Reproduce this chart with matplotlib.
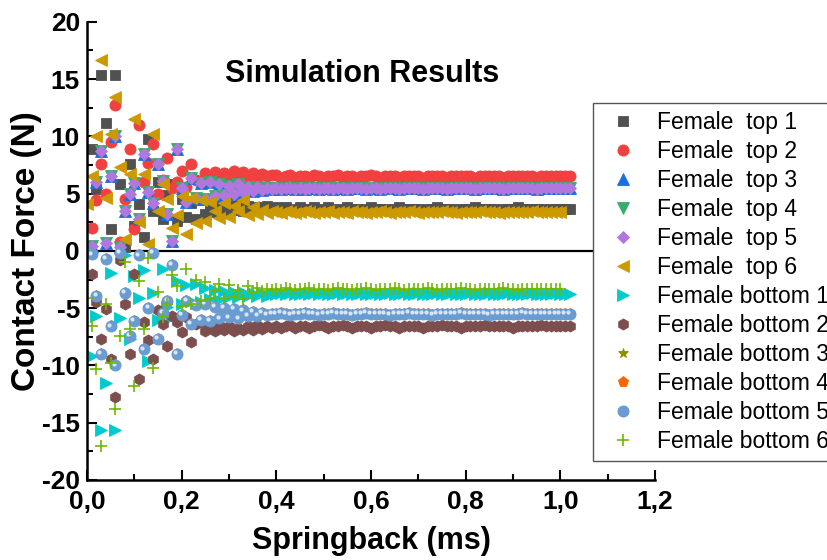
#!/usr/bin/env python3
"""Contact force vs springback time for the twelve female terminal contacts."""

import matplotlib

matplotlib.use("Agg")
import matplotlib.pyplot as plt
from matplotlib.ticker import FuncFormatter, MultipleLocator
from matplotlib.transforms import offset_copy

plt.rcParams["font.family"] = ["Liberation Sans", "DejaVu Sans"]
plt.rcParams["axes.unicode_minus"] = False

# sample grid of the simulation output (ms)
TIME = [round(0.01 * k, 2) for k in range(103)]

TOP_1 = [
    0.0, 8.9, 5.4, 15.4, 11.2, 1.9, 15.4, 5.8, 0.3, 7.6,
    2.2, 4.1, 1.2, 9.8, 3.5, 6.0, 2.8, 4.9, 5.8, 2.6,
    4.5, 3.0, 4.2, 2.8, 4.4, 3.2, 4.0, 3.4, 4.3, 3.5,
    3.9, 3.6, 4.0, 3.5, 3.9, 3.6, 3.8, 3.7, 3.9, 3.7,
    3.8, 3.6, 3.8, 3.7, 3.6, 3.8, 3.7, 3.7, 3.8, 3.6,
    3.7, 3.8, 3.7, 3.6, 3.7, 3.8, 3.7, 3.7, 3.6, 3.7,
    3.8, 3.7, 3.7, 3.7, 3.6, 3.7, 3.8, 3.7, 3.7, 3.7,
    3.7, 3.6, 3.7, 3.7, 3.8, 3.7, 3.7, 3.7, 3.6, 3.7,
    3.7, 3.7, 3.8, 3.7, 3.7, 3.7, 3.7, 3.6, 3.7, 3.7,
    3.7, 3.8, 3.7, 3.7, 3.7, 3.7, 3.7, 3.6, 3.7, 3.7,
    3.7, 3.7, 3.7,
]
TOP_2 = [
    0.0, 2.0, 4.4, 7.6, 5.0, 9.5, 12.7, 0.8, 4.5, 8.9,
    1.9, 11.0, 6.0, 7.7, 9.3, 5.0, 6.2, 8.1, 5.5, 6.0,
    7.0, 5.6, 7.6, 6.2, 6.0, 6.8, 6.2, 6.9, 6.3, 6.8,
    6.5, 7.0, 6.6, 6.9, 6.5, 6.8, 6.4, 6.7, 6.5, 6.6,
    6.6, 6.4, 6.5, 6.6, 6.4, 6.5, 6.5, 6.4, 6.6, 6.5,
    6.4, 6.5, 6.5, 6.6, 6.4, 6.5, 6.5, 6.4, 6.5, 6.5,
    6.6, 6.5, 6.4, 6.5, 6.5, 6.5, 6.4, 6.5, 6.5, 6.5,
    6.5, 6.4, 6.5, 6.5, 6.5, 6.5, 6.4, 6.5, 6.5, 6.5,
    6.5, 6.5, 6.4, 6.5, 6.5, 6.5, 6.5, 6.5, 6.4, 6.5,
    6.5, 6.5, 6.5, 6.5, 6.5, 6.4, 6.5, 6.5, 6.5, 6.5,
    6.5, 6.5, 6.5,
]
TOP_5 = [
    0.0, 0.4, 6.0, 8.7, 0.7, 6.5, 10.0, 0.3, 3.5, 5.0,
    5.9, 2.8, 8.5, 5.1, 4.2, 7.6, 6.1, 3.2, 0.9, 8.9,
    5.5, 4.3, 6.4, 4.6, 5.9, 4.5, 6.0, 4.8, 5.8, 4.9,
    5.7, 5.0, 5.8, 5.1, 5.6, 5.2, 5.6, 5.3, 5.5, 5.4,
    5.5, 5.4, 5.5, 5.5, 5.4, 5.5, 5.4, 5.5, 5.5, 5.4,
    5.5, 5.5, 5.4, 5.5, 5.5, 5.4, 5.5, 5.5, 5.5, 5.4,
    5.5, 5.5, 5.4, 5.5, 5.5, 5.5, 5.4, 5.5, 5.5, 5.5,
    5.5, 5.4, 5.5, 5.5, 5.5, 5.5, 5.4, 5.5, 5.5, 5.5,
    5.5, 5.5, 5.4, 5.5, 5.5, 5.5, 5.5, 5.5, 5.4, 5.5,
    5.5, 5.5, 5.5, 5.5, 5.5, 5.4, 5.5, 5.5, 5.5, 5.5,
    5.5, 5.5, 5.5,
]
TOP_6 = [
    4.1, 6.5, 10.0, 16.7, 4.6, 10.2, 13.4, 7.3, 1.0, 6.7,
    11.5, 2.5, 6.7, 0.6, 10.2, 3.5, 5.8, 4.5, 2.0, 3.1,
    4.8, 1.5, 4.6, 2.4, 4.4, 2.6, 4.3, 3.5, 2.9, 4.2,
    3.0, 3.9, 3.5, 4.4, 3.1, 3.8, 3.2, 3.6, 3.3, 3.5,
    3.4, 3.3, 3.5, 3.4, 3.3, 3.4, 3.5, 3.4, 3.3, 3.4,
    3.4, 3.5, 3.3, 3.4, 3.4, 3.3, 3.5, 3.4, 3.4, 3.3,
    3.4, 3.4, 3.5, 3.4, 3.3, 3.4, 3.4, 3.4, 3.5, 3.4,
    3.3, 3.4, 3.4, 3.4, 3.4, 3.5, 3.4, 3.4, 3.3, 3.4,
    3.4, 3.4, 3.4, 3.5, 3.4, 3.4, 3.4, 3.3, 3.4, 3.4,
    3.4, 3.4, 3.4, 3.4, 3.5, 3.4, 3.4, 3.4, 3.4, 3.4,
    3.4,
]
BOTTOM_1 = [
    0.0, -9.2, -5.7, -15.6, -11.5, -1.9, -15.6, -5.9, -0.4, -7.7,
    -2.2, -4.1, -1.7, -9.6, -3.7, -6.0, -1.6, -4.9, -5.8, -2.6,
    -4.6, -3.0, -4.4, -2.9, -4.5, -3.2, -4.2, -3.4, -4.3, -3.5,
    -4.0, -3.6, -4.0, -3.6, -3.9, -3.7, -3.9, -3.7, -3.9, -3.8,
    -3.8, -3.7, -3.8, -3.7, -3.8, -3.8, -3.7, -3.8, -3.7, -3.8,
    -3.7, -3.8, -3.8, -3.7, -3.8, -3.7, -3.8, -3.8, -3.7, -3.8,
    -3.8, -3.7, -3.8, -3.8, -3.7, -3.8, -3.8, -3.7, -3.8, -3.8,
    -3.7, -3.8, -3.8, -3.8, -3.7, -3.8, -3.8, -3.7, -3.8, -3.8,
    -3.8, -3.7, -3.8, -3.8, -3.8, -3.7, -3.8, -3.8, -3.8, -3.7,
    -3.8, -3.8, -3.8, -3.8, -3.7, -3.8, -3.8, -3.8, -3.8, -3.7,
    -3.8, -3.8, -3.8,
]
BOTTOM_2 = [
    0.0, -2.0, -4.5, -7.7, -5.1, -9.4, -12.8, -0.8, -4.6, -9.0,
    -2.0, -11.2, -6.2, -7.8, -9.4, -5.2, -6.4, -8.3, -5.7, -6.2,
    -7.1, -5.8, -8.0, -6.4, -6.2, -7.0, -6.4, -7.0, -6.5, -6.9,
    -6.6, -7.0, -6.7, -6.9, -6.6, -6.9, -6.5, -6.8, -6.6, -6.7,
    -6.6, -6.7, -6.6, -6.5, -6.7, -6.6, -6.6, -6.7, -6.6, -6.5,
    -6.6, -6.7, -6.6, -6.6, -6.5, -6.6, -6.7, -6.6, -6.6, -6.6,
    -6.7, -6.6, -6.6, -6.5, -6.6, -6.6, -6.7, -6.6, -6.6, -6.6,
    -6.6, -6.7, -6.6, -6.6, -6.6, -6.5, -6.6, -6.6, -6.6, -6.7,
    -6.6, -6.6, -6.6, -6.6, -6.5, -6.6, -6.6, -6.6, -6.6, -6.6,
    -6.7, -6.6, -6.6, -6.6, -6.6, -6.6, -6.5, -6.6, -6.6, -6.6,
    -6.6, -6.6, -6.6,
]
BOTTOM_5 = [
    0.0, -0.3, -3.9, -9.0, -0.7, -6.6, -10.0, -0.2, -3.7, -7.4,
    -6.1, -0.4, -8.6, -5.0, -0.2, -7.7, -5.4, -4.4, -1.2, -9.0,
    -5.6, -4.4, -6.4, -4.7, -6.0, -4.6, -6.1, -4.9, -5.9, -5.0,
    -5.8, -5.1, -5.9, -5.2, -5.7, -5.3, -5.7, -5.4, -5.6, -5.5,
    -5.5, -5.4, -5.5, -5.6, -5.5, -5.5, -5.4, -5.5, -5.5, -5.6,
    -5.5, -5.5, -5.4, -5.5, -5.5, -5.5, -5.6, -5.5, -5.5, -5.4,
    -5.5, -5.5, -5.5, -5.5, -5.6, -5.5, -5.5, -5.5, -5.4, -5.5,
    -5.5, -5.5, -5.5, -5.6, -5.5, -5.5, -5.5, -5.5, -5.5, -5.4,
    -5.5, -5.5, -5.5, -5.5, -5.5, -5.6, -5.5, -5.5, -5.5, -5.5,
    -5.5, -5.5, -5.4, -5.5, -5.5, -5.5, -5.5, -5.5, -5.5, -5.5,
    -5.5, -5.5, -5.5,
]
BOTTOM_6 = [
    -4.1, -6.6, -10.3, -17.0, -4.6, -9.8, -13.8, -7.4, -1.0, -6.8,
    -11.8, -2.6, -6.8, -0.6, -10.2, -3.6, -5.8, -4.6, -2.1, -3.1,
    -4.8, -1.6, -4.6, -2.5, -4.4, -2.7, -4.2, -3.5, -2.9, -4.1,
    -3.0, -3.9, -3.4, -4.2, -3.1, -3.7, -3.2, -3.5, -3.3, -3.4,
    -3.3, -3.4, -3.2, -3.3, -3.4, -3.3, -3.3, -3.2, -3.4, -3.3,
    -3.3, -3.4, -3.3, -3.2, -3.3, -3.3, -3.4, -3.3, -3.3, -3.2,
    -3.3, -3.4, -3.3, -3.3, -3.3, -3.2, -3.3, -3.4, -3.3, -3.3,
    -3.3, -3.3, -3.2, -3.3, -3.4, -3.3, -3.3, -3.3, -3.3, -3.2,
    -3.3, -3.3, -3.4, -3.3, -3.3, -3.3, -3.3, -3.3, -3.2, -3.3,
    -3.3, -3.4, -3.3, -3.3, -3.3, -3.3, -3.3, -3.3, -3.3, -3.3,
    -3.3,
]
# top 3 / top 4 lie under top 5; bottom 3 / bottom 4 lie under bottom 5
TOP_3 = TOP_5
TOP_4 = TOP_5
BOTTOM_3 = BOTTOM_5
BOTTOM_4 = BOTTOM_5

SERIES = [
    ("Female  top 1", TOP_1, "s", "#515151", 7.0),
    ("Female  top 2", TOP_2, "o", "#F14040", 8.0),
    ("Female  top 3", TOP_3, "^", "#1A6FDF", 8.0),
    ("Female  top 4", TOP_4, "v", "#37AD6B", 8.0),
    ("Female  top 5", TOP_5, "D", "#B177DE", 6.5),
    ("Female  top 6", TOP_6, "<", "#CC9900", 8.5),
    ("Female bottom 1", BOTTOM_1, ">", "#00CBCC", 8.5),
    ("Female bottom 2", BOTTOM_2, "h", "#7D4E4E", 8.0),
    ("Female bottom 3", BOTTOM_3, "*", "#8E8E00", 7.5),
    ("Female bottom 4", BOTTOM_4, "p", "#FB6501", 8.0),
    ("Female bottom 5", BOTTOM_5, "o", "#6A9BD1", 8.0),
    ("Female bottom 6", BOTTOM_6, "+", "#6FB802", 8.5),
]


def comma(value, _pos):
    return f"{value:.1f}".replace(".", ",")


fig = plt.figure(figsize=(8.28, 5.6), dpi=100)
ax = fig.add_axes([0.105, 0.143, 0.686, 0.818])

# little glint so the bottom 5 circles read as spheres
glint = offset_copy(ax.transData, fig=fig, x=-1.8, y=1.8, units="dots")

ax.axhline(0, color="black", linewidth=1.6, zorder=1)
for label, values, marker, color, size in SERIES:
    ax.plot(
        TIME[: len(values)],
        values,
        linestyle="none",
        marker=marker,
        markersize=size,
        color=color,
        markeredgecolor=color,
        markeredgewidth=1.2 if marker == "+" else 0.6,
        label=label,
        zorder=2,
    )
    if label == "Female bottom 5":
        ax.plot(
            TIME[: len(values)],
            values,
            linestyle="none",
            marker="o",
            markersize=3.0,
            color="#E4EEF8",
            markeredgewidth=0,
            alpha=0.9,
            transform=glint,
            zorder=2,
        )

ax.set_xlim(0, 1.2)
ax.set_ylim(-20, 20)
ax.xaxis.set_major_locator(MultipleLocator(0.2))
ax.xaxis.set_minor_locator(MultipleLocator(0.1))
ax.yaxis.set_major_locator(MultipleLocator(5))
ax.yaxis.set_minor_locator(MultipleLocator(2.5))
ax.xaxis.set_major_formatter(FuncFormatter(comma))

for side in ("top", "right"):
    ax.spines[side].set_visible(False)
for side in ("left", "bottom"):
    ax.spines[side].set_linewidth(1.8)
ax.tick_params(which="both", direction="in", width=1.5)
ax.tick_params(which="major", length=7, labelsize=19)
ax.tick_params(axis="x", which="major", pad=7)
ax.tick_params(axis="y", which="major", pad=5)
ax.tick_params(which="minor", length=4)
for tick in ax.get_xticklabels() + ax.get_yticklabels():
    tick.set_fontweight("bold")

ax.set_xlabel("Springback (ms)", fontsize=22, fontweight="bold", labelpad=9)
ax.set_ylabel("Contact Force (N)", fontsize=24, fontweight="bold", labelpad=0)
ax.text(0.484, 0.886, "Simulation Results", transform=ax.transAxes,
        ha="center", va="center", fontsize=22, fontweight="bold")

legend = fig.legend(
    loc="upper left",
    bbox_to_anchor=(593 / 828, 1 - 103 / 560),
    borderaxespad=0,
    numpoints=1,
    fontsize=16.5,
    frameon=True,
    fancybox=False,
    framealpha=1,
    edgecolor="#555555",
    borderpad=0.35,
    handlelength=1.9,
    handletextpad=0.55,
    labelspacing=0.26,
)
legend.get_frame().set_linewidth(1.0)

fig.savefig("out.png", dpi=100)
